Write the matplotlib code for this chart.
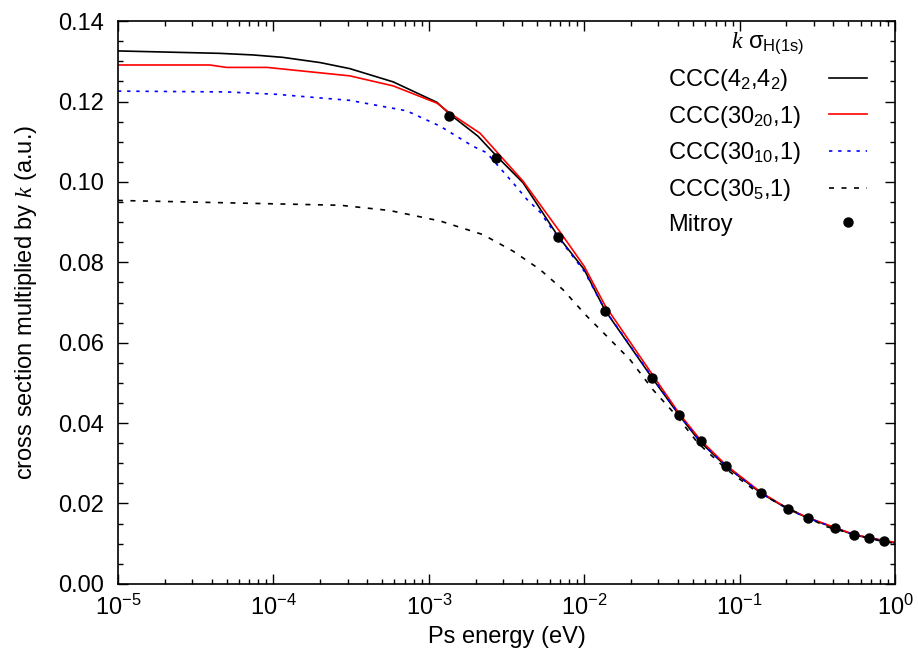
import matplotlib
matplotlib.use("Agg")
import matplotlib.pyplot as plt
from matplotlib.ticker import MultipleLocator, LogLocator, NullFormatter

plt.rcParams["font.family"] = ["Liberation Sans", "DejaVu Sans"]
plt.rcParams["mathtext.fontset"] = "custom"
plt.rcParams["mathtext.rm"] = "Liberation Sans"
plt.rcParams["mathtext.it"] = "Liberation Serif:italic"
plt.rcParams["axes.unicode_minus"] = False

# CCC(4_2,4_2)
e_42 = [1e-5, 4.5e-5, 7.4e-5, 1.15e-4, 2.0e-4, 3.1e-4, 5.9e-4, 1.13e-3, 1.37e-3,
        2.07e-3, 2.75e-3, 4.04e-3, 5.76e-3, 6.78e-3, 1.0e-2, 1.36e-2, 2.73e-2,
        4.13e-2, 5.55e-2, 8.2e-2, 0.137, 0.205, 0.275, 0.411, 0.545, 0.681, 0.85, 1.0]
v_42 = [0.1326, 0.1320, 0.1316, 0.1310, 0.1297, 0.1282, 0.1249, 0.1198, 0.1168,
        0.1114, 0.1063, 0.0998, 0.0907, 0.0865, 0.0782, 0.0681, 0.0513,
        0.0417, 0.0354, 0.0292, 0.0226, 0.0186, 0.0164, 0.0139, 0.0122, 0.0114, 0.0107, 0.0102]

# CCC(30_20,1)
e_20 = [1e-5, 3.9e-5, 5.0e-5, 9.1e-5, 3.1e-4, 5.9e-4, 1.13e-3, 1.37e-3, 2.14e-3,
        4.04e-3, 7.19e-3, 1.0e-2, 1.36e-2, 2.73e-2, 4.1e-2, 5.6e-2, 8.2e-2,
        0.137, 0.205, 0.275, 0.411, 0.545, 0.681, 0.85, 1.0]
v_20 = [0.1291, 0.1291, 0.1285, 0.1285, 0.1264, 0.1239, 0.1196, 0.1171, 0.1121,
        0.1002, 0.0869, 0.0790, 0.0693, 0.0522, 0.0423, 0.0358, 0.0295,
        0.0228, 0.0187, 0.0165, 0.0140, 0.0123, 0.0115, 0.0108, 0.0103]

# CCC(30_10,1)
e_10 = [1e-5, 5e-5, 1.05e-4, 3.1e-4, 7.2e-4, 1.18e-3, 1.92e-3, 2.35e-3, 3.48e-3,
        4.27e-3, 5.2e-3, 6.5e-3, 1.0e-2, 1.36e-2, 2.73e-2, 4.13e-2, 5.55e-2, 8.2e-2,
        0.137, 0.205, 0.275, 0.411, 0.545, 0.681, 0.85, 1.0]
v_10 = [0.1226, 0.1224, 0.1218, 0.1203, 0.1177, 0.1139, 0.1089, 0.1073, 0.0998,
        0.0957, 0.0925, 0.0872, 0.0778, 0.0682, 0.0515, 0.0418, 0.0355, 0.0292,
        0.0226, 0.0186, 0.0164, 0.0139, 0.0122, 0.0114, 0.0107, 0.0102]

# CCC(30_5,1)
e_5 = [1e-5, 2.7e-4, 5.6e-4, 1.18e-3, 2.23e-3, 3.48e-3, 5.2e-3, 7.3e-3, 1.04e-2,
       1.40e-2, 1.97e-2, 2.77e-2, 3.95e-2, 5.4e-2, 8.3e-2, 0.129, 0.202, 0.365,
       0.6, 0.84, 1.0]
v_5 = [0.0954, 0.0942, 0.0929, 0.0903, 0.0869, 0.0828, 0.0782, 0.0732, 0.0666,
       0.0616, 0.0558, 0.0483, 0.0417, 0.0350, 0.0284, 0.0229, 0.0189, 0.0142,
       0.0119, 0.0105, 0.0101]

# Mitroy
e_mitroy = [1.35e-3, 2.70e-3, 6.78e-3, 1.36e-2, 2.73e-2, 4.07e-2, 5.65e-2, 8.18e-2,
            0.137, 0.205, 0.275, 0.411, 0.545, 0.681, 0.85]
v_mitroy = [0.1165, 0.1060, 0.0862, 0.0680, 0.0513, 0.0419, 0.0356, 0.0294,
            0.0227, 0.0187, 0.0164, 0.0140, 0.0122, 0.0115, 0.0107]

labels = ["CCC(4$_2$,4$_2$)", "CCC(30$_{20}$,1)", "CCC(30$_{10}$,1)", "CCC(30$_5$,1)", "Mitroy"]


def left_align_legend(fig, leg, gap_pts):
    # legend with markerfirst=False right-aligns the labels; pad each row so the
    # labels start at the same x while the handles stay lined up
    renderer = fig.canvas.get_renderer()
    widths = [t.get_window_extent(renderer).width for t in leg.get_texts()]
    wmax = max(widths)
    k = 0
    for col in leg._legend_handle_box.get_children():
        col.align = "left"
        for row in col.get_children():
            row.sep = gap_pts + (wmax - widths[k]) * 72.0 / fig.dpi
            k += 1


def main() -> None:
    fig = plt.figure(figsize=(9.18, 6.62), dpi=100)
    ax = fig.add_axes([0.1285, 0.118, 0.8465, 0.850])

    ax.plot(e_42, v_42, color="black", lw=1.2, label=labels[0])
    ax.plot(e_20, v_20, color="#ff0000", lw=1.2, label=labels[1])
    ax.plot(e_10, v_10, color="#0000ff", lw=1.2, ls=(0, (2, 3.5)), label=labels[2])
    ax.plot(e_5, v_5, color="black", lw=1.2, ls=(0, (3, 4.5)), label=labels[3])
    ax.plot(e_mitroy, v_mitroy, "o", color="black", ms=6.5, label=labels[4])

    ax.set_xscale("log")
    ax.set_xlim(1e-5, 1)
    ax.set_ylim(0, 0.14)
    ax.yaxis.set_major_locator(MultipleLocator(0.02))
    ax.yaxis.set_minor_locator(MultipleLocator(0.005))
    ax.yaxis.set_major_formatter(plt.FormatStrFormatter("%.2f"))
    ax.xaxis.set_major_locator(LogLocator(base=10, numticks=10))
    ax.xaxis.set_minor_locator(LogLocator(base=10, subs=range(2, 10), numticks=20))
    ax.xaxis.set_minor_formatter(NullFormatter())

    ax.tick_params(which="both", direction="in", top=True, right=True, labelsize=17)
    ax.tick_params(which="major", length=7, width=1)
    ax.tick_params(which="minor", length=3.5, width=1)
    ax.tick_params(axis="x", which="major", pad=8)
    ax.tick_params(axis="y", which="major", pad=10)
    for s in ax.spines.values():
        s.set_linewidth(1.2)

    ax.set_xlabel("Ps energy (eV)", fontsize=17)
    ax.set_ylabel("cross section multiplied by $k$ (a.u.)", fontsize=17, labelpad=14)

    leg = ax.legend(loc="upper right", bbox_to_anchor=(1 - 19 / 777, 1.0),
                    frameon=False, fontsize=17, markerfirst=False,
                    title="$k$ σ$_{\\mathrm{H(1s)}}$", title_fontsize=17,
                    handlelength=1.6, handletextpad=1.2, labelspacing=0.45,
                    borderaxespad=0)
    left_align_legend(fig, leg, 1.2 * 17)

    fig.savefig("out.png", dpi=100)
    plt.close(fig)


if __name__ == "__main__":
    main()
